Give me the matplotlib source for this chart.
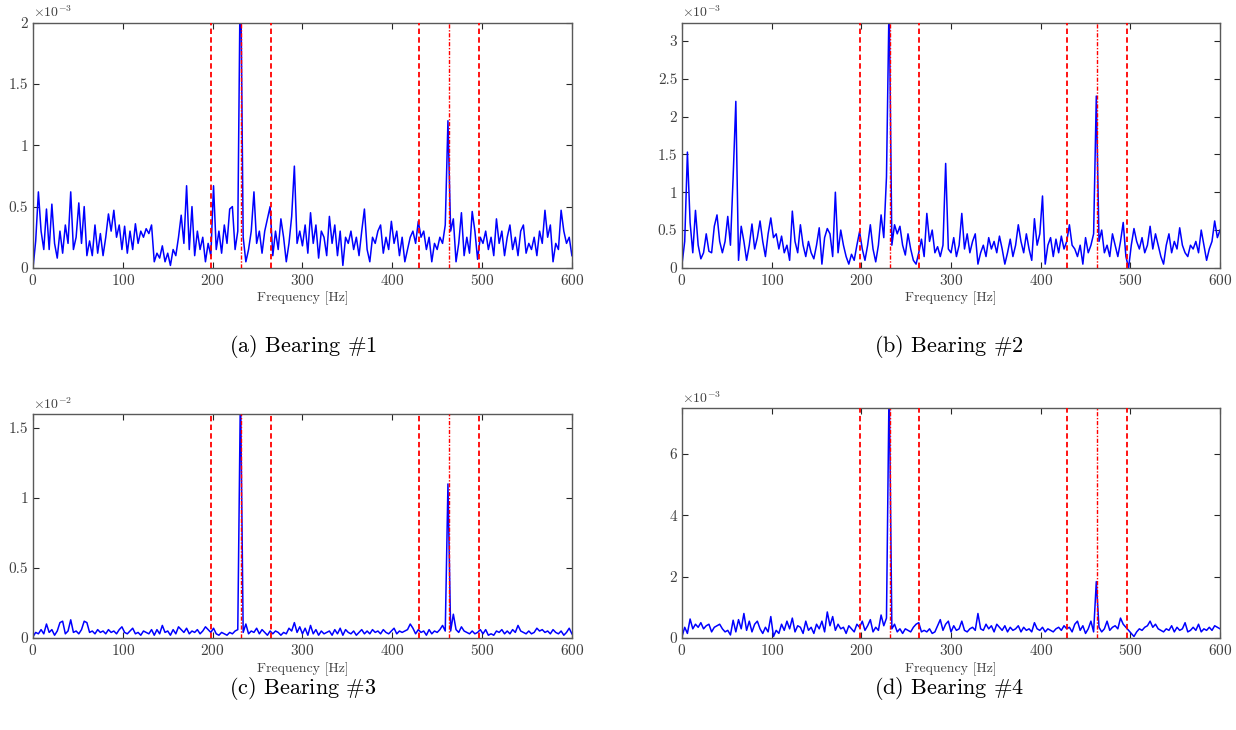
import numpy as np
import matplotlib
matplotlib.use('Agg')
import matplotlib.pyplot as plt
from matplotlib.ticker import FuncFormatter

plt.rcParams['font.family'] = 'serif'
plt.rcParams['font.serif'] = ['cmr10']
plt.rcParams['mathtext.fontset'] = 'cm'
plt.rcParams['axes.formatter.use_mathtext'] = True

# spectrum amplitudes, units of 1e-3, sampled every 3 Hz from 0 to 600 Hz
bearing1 = [0.00, 0.22, 0.62, 0.30, 0.15, 0.48, 0.15, 0.52, 0.20, 0.08,
            0.30, 0.12, 0.35, 0.20, 0.62, 0.15, 0.25, 0.53, 0.20, 0.50,
            0.10, 0.22, 0.10, 0.35, 0.12, 0.28, 0.10, 0.25, 0.44, 0.30,
            0.47, 0.25, 0.35, 0.15, 0.34, 0.12, 0.30, 0.15, 0.36, 0.20,
            0.30, 0.25, 0.32, 0.28, 0.35, 0.05, 0.12, 0.08, 0.18, 0.05,
            0.12, 0.02, 0.15, 0.10, 0.25, 0.43, 0.20, 0.67, 0.15, 0.50,
            0.10, 0.30, 0.15, 0.25, 0.05, 0.20, 0.10, 0.67, 0.15, 0.30,
            0.12, 0.35, 0.20, 0.48, 0.50, 0.15, 0.30, 2.60, 0.25, 0.05,
            0.15, 0.30, 0.62, 0.20, 0.30, 0.12, 0.30, 0.40, 0.50, 0.10,
            0.30, 0.15, 0.40, 0.25, 0.05, 0.20, 0.42, 0.83, 0.20, 0.30,
            0.18, 0.35, 0.12, 0.45, 0.20, 0.35, 0.08, 0.30, 0.25, 0.10,
            0.42, 0.20, 0.35, 0.10, 0.30, 0.02, 0.25, 0.20, 0.30, 0.15,
            0.25, 0.10, 0.30, 0.48, 0.15, 0.05, 0.25, 0.20, 0.30, 0.35,
            0.12, 0.25, 0.15, 0.38, 0.20, 0.30, 0.10, 0.25, 0.05, 0.15,
            0.25, 0.30, 0.20, 0.38, 0.25, 0.30, 0.15, 0.25, 0.05, 0.20,
            0.15, 0.25, 0.20, 0.35, 1.20, 0.30, 0.40, 0.05, 0.20, 0.45,
            0.10, 0.25, 0.12, 0.46, 0.30, 0.07, 0.25, 0.20, 0.30, 0.15,
            0.25, 0.10, 0.40, 0.20, 0.30, 0.10, 0.25, 0.35, 0.15, 0.25,
            0.10, 0.30, 0.35, 0.12, 0.20, 0.15, 0.25, 0.10, 0.30, 0.20,
            0.47, 0.25, 0.35, 0.05, 0.20, 0.15, 0.47, 0.30, 0.20, 0.25,
            0.10]

bearing2 = [0.05, 0.35, 1.53, 0.60, 0.20, 0.76, 0.30, 0.12, 0.20, 0.45,
            0.22, 0.20, 0.55, 0.70, 0.35, 0.20, 0.35, 0.68, 0.30, 1.20,
            2.20, 0.10, 0.55, 0.35, 0.10, 0.30, 0.58, 0.25, 0.40, 0.62,
            0.35, 0.15, 0.45, 0.66, 0.40, 0.45, 0.25, 0.42, 0.20, 0.30,
            0.10, 0.75, 0.35, 0.20, 0.57, 0.30, 0.15, 0.35, 0.20, 0.12,
            0.30, 0.53, 0.05, 0.40, 0.52, 0.45, 0.15, 1.00, 0.20, 0.50,
            0.30, 0.15, 0.05, 0.18, 0.10, 0.30, 0.48, 0.25, 0.10, 0.30,
            0.57, 0.25, 0.08, 0.30, 0.70, 0.40, 1.20, 3.60, 0.30, 0.57,
            0.45, 0.55, 0.30, 0.17, 0.45, 0.25, 0.10, 0.05, 0.20, 0.38,
            0.15, 0.72, 0.35, 0.50, 0.20, 0.28, 0.15, 0.30, 1.38, 0.25,
            0.20, 0.40, 0.15, 0.30, 0.72, 0.25, 0.45, 0.20, 0.35, 0.45,
            0.05, 0.20, 0.30, 0.15, 0.40, 0.25, 0.35, 0.20, 0.42, 0.25,
            0.05, 0.20, 0.38, 0.15, 0.30, 0.57, 0.35, 0.20, 0.45, 0.25,
            0.10, 0.65, 0.30, 0.45, 0.95, 0.05, 0.30, 0.40, 0.15, 0.38,
            0.20, 0.42, 0.25, 0.35, 0.57, 0.30, 0.25, 0.15, 0.30, 0.05,
            0.40, 0.20, 0.30, 0.45, 2.27, 0.35, 0.50, 0.20, 0.30, 0.15,
            0.45, 0.30, 0.15, 0.35, 0.60, 0.15, 0.00, 0.30, 0.52, 0.35,
            0.25, 0.40, 0.20, 0.30, 0.55, 0.25, 0.45, 0.30, 0.15, 0.05,
            0.30, 0.45, 0.20, 0.35, 0.25, 0.53, 0.30, 0.20, 0.15, 0.30,
            0.25, 0.35, 0.20, 0.50, 0.30, 0.10, 0.25, 0.35, 0.62, 0.40,
            0.50]

bearing3 = [0.1, 0.4, 0.3, 0.6, 0.3, 1.0, 0.4, 0.6, 0.2, 0.5,
            1.1, 1.2, 0.3, 0.5, 1.3, 0.4, 0.5, 0.3, 0.6, 1.2,
            1.1, 0.4, 0.5, 0.3, 0.6, 0.4, 0.5, 0.3, 0.6, 0.4,
            0.5, 0.3, 0.6, 0.8, 0.4, 0.3, 0.5, 0.7, 0.3, 0.4,
            0.2, 0.5, 0.4, 0.3, 0.6, 0.2, 0.6, 0.3, 0.9, 0.4,
            0.5, 0.2, 0.6, 0.3, 0.8, 0.6, 0.4, 0.7, 0.3, 0.5,
            0.4, 0.6, 0.3, 0.5, 0.8, 0.6, 0.4, 0.7, 0.3, 0.2,
            0.4, 0.3, 0.2, 0.4, 0.3, 0.5, 0.6, 18.0, 0.4, 1.0,
            0.3, 0.5, 0.4, 0.7, 0.3, 0.6, 0.4, 0.2, 0.5, 0.3,
            0.5, 0.4, 0.2, 0.4, 0.3, 0.7, 0.5, 1.1, 0.4, 0.8,
            0.3, 0.7, 0.2, 0.9, 0.3, 0.6, 0.2, 0.5, 0.3, 0.4,
            0.5, 0.2, 0.6, 0.3, 0.7, 0.2, 0.6, 0.4, 0.3, 0.5,
            0.2, 0.4, 0.6, 0.3, 0.5, 0.3, 0.6, 0.4, 0.5, 0.3,
            0.6, 0.4, 0.3, 0.5, 0.7, 0.3, 0.5, 0.4, 0.5, 0.6,
            1.0, 0.7, 0.3, 0.6, 0.4, 0.5, 0.2, 0.6, 0.3, 0.5,
            0.4, 0.6, 0.9, 0.5, 11.0, 0.5, 1.7, 0.6, 0.4, 0.8,
            0.5, 0.4, 0.3, 0.5, 0.3, 0.4, 0.6, 0.3, 0.6, 0.2,
            0.3, 0.2, 0.5, 0.4, 0.6, 0.3, 0.5, 0.3, 0.6, 0.4,
            0.9, 0.5, 0.4, 0.3, 0.5, 0.3, 0.4, 0.7, 0.5, 0.6,
            0.4, 0.5, 0.3, 0.6, 0.4, 0.3, 0.5, 0.2, 0.4, 0.7,
            0.3]

bearing4 = [0.05, 0.35, 0.15, 0.62, 0.30, 0.45, 0.35, 0.50, 0.30, 0.40,
            0.45, 0.20, 0.35, 0.40, 0.45, 0.30, 0.20, 0.25, 0.10, 0.58,
            0.20, 0.60, 0.30, 0.80, 0.25, 0.55, 0.20, 0.45, 0.55, 0.30,
            0.15, 0.35, 0.20, 0.70, 0.05, 0.25, 0.15, 0.45, 0.25, 0.55,
            0.30, 0.65, 0.20, 0.40, 0.35, 0.15, 0.55, 0.25, 0.35, 0.15,
            0.45, 0.30, 0.55, 0.20, 0.85, 0.40, 0.70, 0.25, 0.45, 0.30,
            0.35, 0.15, 0.40, 0.30, 0.20, 0.45, 0.35, 0.55, 0.25, 0.40,
            0.60, 0.20, 0.35, 0.25, 0.75, 0.40, 0.65, 8.50, 0.30, 0.45,
            0.20, 0.30, 0.15, 0.30, 0.25, 0.20, 0.35, 0.45, 0.50, 0.20,
            0.25, 0.20, 0.30, 0.15, 0.20, 0.40, 0.60, 0.25, 0.45, 0.55,
            0.20, 0.40, 0.25, 0.30, 0.55, 0.25, 0.20, 0.30, 0.35, 0.25,
            0.80, 0.30, 0.25, 0.45, 0.30, 0.40, 0.20, 0.45, 0.35, 0.25,
            0.40, 0.20, 0.35, 0.25, 0.30, 0.40, 0.20, 0.35, 0.25, 0.30,
            0.20, 0.50, 0.30, 0.25, 0.35, 0.20, 0.30, 0.25, 0.20, 0.30,
            0.35, 0.25, 0.40, 0.30, 0.35, 0.20, 0.45, 0.55, 0.25, 0.40,
            0.15, 0.30, 0.55, 0.20, 1.84, 0.35, 0.20, 0.30, 0.55, 0.25,
            0.35, 0.40, 0.30, 0.65, 0.45, 0.35, 0.25, 0.15, 0.05, 0.20,
            0.30, 0.25, 0.35, 0.40, 0.55, 0.35, 0.45, 0.30, 0.25, 0.20,
            0.30, 0.25, 0.40, 0.20, 0.35, 0.25, 0.30, 0.50, 0.20, 0.25,
            0.35, 0.25, 0.45, 0.20, 0.30, 0.25, 0.35, 0.25, 0.40, 0.35,
            0.30]

# fault frequency markers [Hz]
sideband_lines = [198.3, 264.7, 429.8, 496.2]
harmonic_lines = [231.5, 463.0]

captions = [r'(a) Bearing $\#1$', r'(b) Bearing $\#2$',
            r'(c) Bearing $\#3$', r'(d) Bearing $\#4$']
y_tops = [2.0e-3, 3.24e-3, 1.6e-2, 7.5e-3]
y_exps = [-3, -3, -2, -3]
y_ticks = [[0, 0.5, 1, 1.5, 2],
           [0, 0.5, 1, 1.5, 2, 2.5, 3],
           [0, 0.5, 1, 1.5],
           [0, 2, 4, 6]]

# axes boxes in figure fractions (left, bottom, width, height)
boxes = [[0.0267, 0.633, 0.436, 0.336],
         [0.5518, 0.633, 0.4353, 0.336],
         [0.0267, 0.126, 0.436, 0.307],
         [0.5518, 0.126, 0.4353, 0.315]]
caption_pos = [(0.245, 0.525), (0.768, 0.525), (0.245, 0.057), (0.768, 0.057)]


def spectrum_panel(fig, box, amps, top, ticks, ex):
    ax = fig.add_axes(box)
    freq = 3 * np.arange(len(amps))
    ax.plot(freq, np.array(amps) * 1e-3, color='#0000ff', lw=1.1, zorder=2)
    for f in sideband_lines:
        ax.axvline(f, color='#ff0000', ls=(0, (3, 1.8)), lw=1.3, zorder=3)
    for f in harmonic_lines:
        ax.axvline(f, color='#ff0000', ls=(0, (3, 1.2, 1, 1.2)), lw=1.0, zorder=3)
    ax.set_xlim(0, 600)
    ax.set_ylim(0, top)
    ax.set_xticks([0, 100, 200, 300, 400, 500, 600])
    scale = 10.0 ** ex
    ax.set_yticks([t * scale for t in ticks])
    ax.yaxis.set_major_formatter(FuncFormatter(lambda v, p: '%g' % round(v / scale, 3)))
    ax.tick_params(direction='in', top=True, right=True, length=4,
                   labelsize=11, colors='0.15', labelcolor='0.25')
    for s in ax.spines.values():
        s.set_color('0.35')
        s.set_linewidth(1.0)
    ax.set_xlabel('Frequency [Hz]', fontsize=10, color='0.25', labelpad=3)
    ax.text(0.0, 1.01, r'$\times10^{%d}$' % ex, transform=ax.transAxes,
            fontsize=10, color='0.25', ha='left', va='bottom')
    return ax


fig = plt.figure(figsize=(12.36, 7.30), dpi=100)
data = [bearing1, bearing2, bearing3, bearing4]
for i in range(4):
    spectrum_panel(fig, boxes[i], data[i], y_tops[i], y_ticks[i], y_exps[i])
    fig.text(caption_pos[i][0], caption_pos[i][1], captions[i],
             fontsize=16, ha='center', va='center')

fig.savefig('out.png', dpi=100)
